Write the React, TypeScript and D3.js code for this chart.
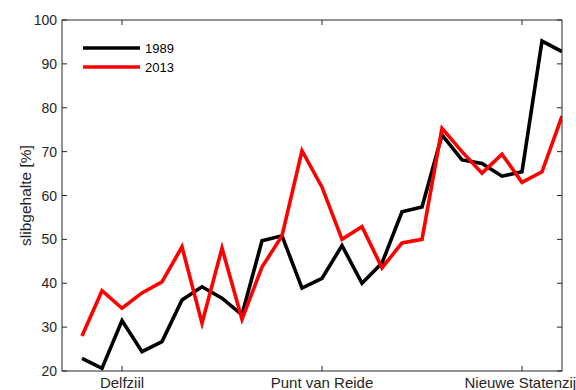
import React from "react";
import * as d3 from "d3";

// Sediment (slib) content along the transect, one value per station
const stations: number[] = d3.range(1, 26);
const values1989: number[] = [
  22.9, 20.6, 31.5, 24.4, 26.7, 36.2, 39.2, 36.6, 32.8, 49.7,
  50.8, 38.9, 41.1, 48.6, 40.0, 44.6, 56.3, 57.4, 73.8, 68.1,
  67.3, 64.4, 65.4, 95.2, 92.8,
];
const values2013: number[] = [
  28.0, 38.3, 34.3, 37.8, 40.3, 48.3, 30.9, 48.0, 31.8, 43.7,
  50.8, 70.2, 61.9, 50.0, 52.9, 43.5, 49.2, 50.0, 75.3, 70.0,
  65.1, 69.4, 63.0, 65.4, 78.1,
];
const xTickPositions: number[] = [3, 13, 23];
const xTickLabels: string[] = ["Delfziil", "Punt van Reide", "Nieuwe Statenzijl"];
const yTicks: number[] = [20, 30, 40, 50, 60, 70, 80, 90, 100];
const seriesNames: string[] = ["1989", "2013"];
const seriesColors: string[] = ["#000000", "#ff0000"];

const W = 576;
const H = 390;
const left = 62;
const right = 562;
const top = 20;
const bottom = 371;
const font = "'Liberation Sans', Arial, Helvetica, sans-serif";
const axisColor = "#262626";

export default function App() {
  const x = d3.scaleLinear().domain([0, 25]).range([left, right]);
  const y = d3.scaleLinear().domain([20, 100]).range([bottom, top]);

  const line = d3
    .line<number>()
    .x((_, i) => x(stations[i]))
    .y((d) => y(d));

  const series = [values1989, values2013];
  const tickLen = 5;

  return (
    <svg
      width={W}
      height={H}
      style={{ position: "absolute", left: 0, top: 0 }}
      fontFamily={font}
    >
      <rect width={W} height={H} fill="#ffffff" />
      <defs>
        <clipPath id="plotArea">
          <rect x={left} y={top} width={right - left} height={bottom - top} />
        </clipPath>
      </defs>

      <g clipPath="url(#plotArea)">
        {series.map((vals, k) => (
          <path
            key={seriesNames[k]}
            d={line(vals) ?? ""}
            fill="none"
            stroke={seriesColors[k]}
            strokeWidth={3.6}
            strokeLinejoin="miter"
            strokeMiterlimit={4}
          />
        ))}
      </g>

      {/* axes box */}
      <rect
        x={left}
        y={top}
        width={right - left}
        height={bottom - top}
        fill="none"
        stroke={axisColor}
        strokeWidth={1}
      />

      {/* y ticks on both sides */}
      {yTicks.map((t) => (
        <g key={"y" + t}>
          <line x1={left} x2={left + tickLen} y1={y(t)} y2={y(t)} stroke={axisColor} />
          <line x1={right} x2={right - tickLen} y1={y(t)} y2={y(t)} stroke={axisColor} />
          <text
            x={left - 5}
            y={y(t)}
            textAnchor="end"
            dominantBaseline="central"
            fontSize={14}
            fill={axisColor}
          >
            {t}
          </text>
        </g>
      ))}

      {/* x ticks top and bottom */}
      {xTickPositions.map((p, i) => (
        <g key={"x" + p}>
          <line x1={x(p)} x2={x(p)} y1={bottom} y2={bottom - tickLen} stroke={axisColor} />
          <line x1={x(p)} x2={x(p)} y1={top} y2={top + tickLen} stroke={axisColor} />
          <text
            x={x(p)}
            y={bottom + 17}
            textAnchor="middle"
            fontSize={15}
            fill={axisColor}
          >
            {xTickLabels[i]}
          </text>
        </g>
      ))}

      <text
        transform={`translate(${25},${(top + bottom) / 2}) rotate(-90)`}
        textAnchor="middle"
        dominantBaseline="central"
        fontSize={15.5}
        fill={axisColor}
      >
        slibgehalte [%]
      </text>

      {/* legend */}
      {seriesNames.map((name, k) => (
        <g key={"leg" + name}>
          <line
            x1={83}
            x2={140}
            y1={48 + k * 19}
            y2={48 + k * 19}
            stroke={seriesColors[k]}
            strokeWidth={3.6}
          />
          <text
            x={145}
            y={48 + k * 19}
            dominantBaseline="central"
            fontSize={13}
            fill="#000000"
          >
            {name}
          </text>
        </g>
      ))}
    </svg>
  );
}
